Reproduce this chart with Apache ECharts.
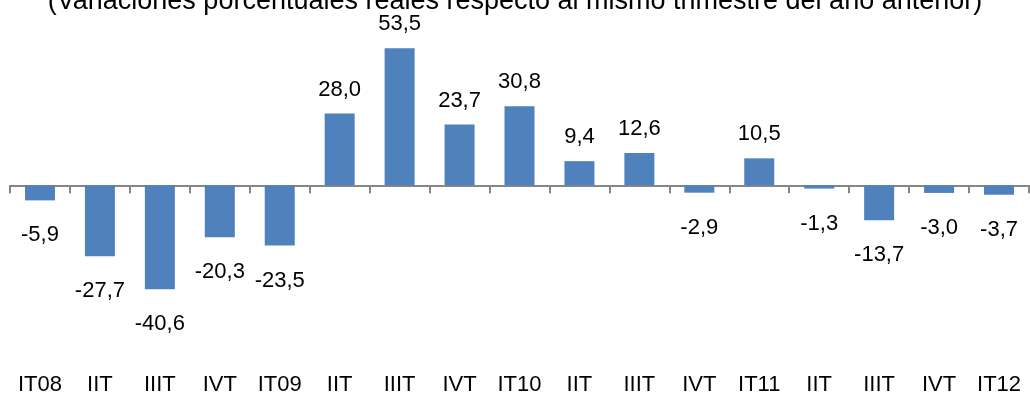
<!DOCTYPE html>
<html>
<head>
<meta charset="utf-8">
<script src="https://cdn.jsdelivr.net/npm/echarts@6/dist/echarts.min.js"></script>
<style>
  html, body { margin: 0; padding: 0; background: #fff; }
  #chart { width: 1030px; height: 396px; }
</style>
</head>
<body>
<div id="chart"></div>
<script>
// Quarterly real percentage change vs. same quarter of the previous year
const subtitle = '(Variaciones porcentuales reales respecto al mismo trimestre del año anterior)';
const quarters = ['IT08', 'IIT', 'IIIT', 'IVT', 'IT09', 'IIT', 'IIIT', 'IVT', 'IT10', 'IIT', 'IIIT', 'IVT', 'IT11', 'IIT', 'IIIT', 'IVT', 'IT12'];
const changes = [-5.9, -27.7, -40.6, -20.3, -23.5, 28.0, 53.5, 23.7, 30.8, 9.4, 12.6, -2.9, 10.5, -1.3, -13.7, -3.0, -3.7];

const FONT = 'Liberation Sans, Arial, sans-serif';
const fmt = v => v.toFixed(1).replace('.', ',');

const chart = echarts.init(document.getElementById('chart'), null, { renderer: 'canvas' });

chart.setOption({
  animation: false,
  backgroundColor: '#ffffff',
  title: {
    text: subtitle,
    left: 'center',
    top: -17,
    textStyle: { fontFamily: FONT, fontSize: 27, fontWeight: 'normal', color: '#000' }
  },
  grid: { left: 10, right: 1, top: 31.5, bottom: 52.5 },
  xAxis: [
    {
      type: 'category',
      data: quarters,
      boundaryGap: true,
      axisLine: { onZero: true, lineStyle: { color: '#868686', width: 2 } },
      axisTick: { show: true, interval: 0, length: 8, lineStyle: { color: '#868686', width: 2 } },
      axisLabel: { show: false }
    },
    {
      type: 'category',
      data: quarters,
      position: 'bottom',
      boundaryGap: true,
      axisLine: { show: false, onZero: false },
      axisTick: { show: false },
      axisLabel: { interval: 0, margin: 35, fontFamily: FONT, fontSize: 22, color: '#000' }
    }
  ],
  yAxis: {
    type: 'value',
    min: -60,
    max: 60,
    show: false,
    splitLine: { show: false }
  },
  series: [{
    type: 'bar',
    xAxisIndex: 0,
    barWidth: 30,
    itemStyle: { color: '#4F81BD' },
    data: changes.map(v => ({
      value: v,
      label: {
        show: true,
        position: v >= 0 ? 'top' : 'bottom',
        distance: v >= 0 ? 13 : 24,
        formatter: p => fmt(p.value),
        fontFamily: FONT,
        fontSize: 22,
        color: '#000'
      }
    }))
  }]
});
</script>
</body>
</html>
